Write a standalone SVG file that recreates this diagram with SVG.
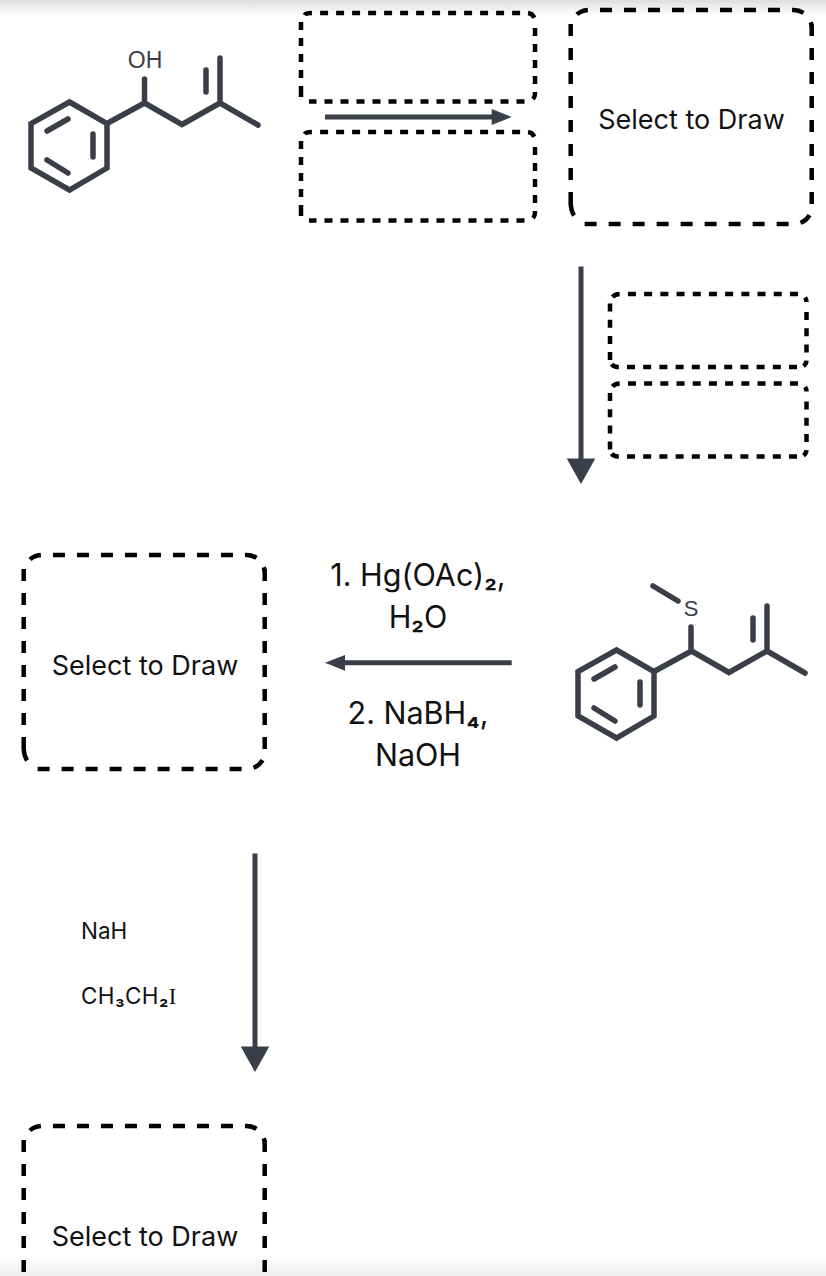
<svg xmlns="http://www.w3.org/2000/svg" width="826" height="1276" viewBox="0 0 826 1276">
<style>
.sm{fill:none;stroke:#000;stroke-width:4.500;stroke-dasharray:8 8}
.sn{fill:none;stroke:#000;stroke-width:4.500;stroke-dasharray:8 8.200}
.lg{fill:none;stroke:#000;stroke-width:4.500;stroke-dasharray:12 12}
.b{fill:none;stroke:#3a3e49;stroke-width:5.500;stroke-linecap:round;stroke-linejoin:miter}
.c{stroke:#3a3e49;stroke-width:5;fill:none}
.h{fill:#3a3e49}
.t{font-family:Inter,"Liberation Sans",sans-serif;fill:#111}
.d{font-size:27px;text-anchor:middle}
.r{font-size:30.500px;text-anchor:middle}
.n{font-size:22.500px}
.u{font-size:.92em;font-weight:600}
.i{font-family:"Liberation Serif",serif}
.a{font-family:"Liberation Sans",Arial,sans-serif;fill:#3a3e49;text-anchor:middle}
</style>
<defs>
<linearGradient id="gt" x1="0" y1="0" x2="0" y2="1"><stop offset="0" stop-color="#000" stop-opacity=".13"/><stop offset="1" stop-color="#000" stop-opacity="0"/></linearGradient>
<linearGradient id="gb" x1="0" y1="1" x2="0" y2="0"><stop offset="0" stop-color="#000" stop-opacity=".07"/><stop offset="1" stop-color="#000" stop-opacity="0"/></linearGradient>
<g id="mol">
<path class="b" d="M69.500 102L107 123.500V168L69.500 190L31 168V123.500Z"/>
<path class="b" d="M47 131L68 119M93 134V157M47 160L68 173M107 123.500L144.500 103L182 124.500L220 103L258 125M220 103V58M206 70V92"/>
</g>
<path id="big" class="lg" d="M577 14.500Q581 10.500 589 10H793.500A18 18 0 0 1 811.700 28M811.700 24V204M809.500 215A18 18 0 0 1 794 224H583M570.700 24V204M570.700 204Q571 211 574.500 216"/>
<path id="wide" class="sm" d="M304.500 15Q306 13 313 13H527A8 8 0 0 1 535 21M535 28V93.500A8 8 0 0 1 533 99M524.500 101.500H309M301 22V84M301 86V94M301 89V97"/>
<path id="narrow" class="sn" d="M612.500 297Q615 294 620.500 294H798.500A8 8 0 0 1 806.500 302M806.500 312V359.500A7.500 7.500 0 0 1 803.500 366M797 367H618Q613 367 611 363M610 303.500V360"/>
</defs>
<rect width="826" height="1276" fill="#fff"/>
<g id="molecule-alcohol">
<use href="#mol"/>
<path class="b" d="M144.500 103V79"/>
<text class="a" x="145" y="67.500" font-size="23">OH</text>
</g>
<g id="molecule-thioether">
<use href="#mol" transform="translate(547 548)"/>
<path class="b" d="M691 651V627M653 586L678 601"/>
<text class="a" x="691" y="616" font-size="22">S</text>
</g>
<g id="box-reagent-top"><use href="#wide"/></g>
<g id="box-reagent-bottom"><use href="#wide" transform="translate(0 119)"/></g>
<g id="box-product-1"><use href="#big"/><text class="t d" x="691.500" y="128.500">Select to Draw</text></g>
<g id="box-reagent-right-top"><use href="#narrow"/></g>
<g id="box-reagent-right-bottom"><use href="#narrow" transform="translate(0 89.500)"/></g>
<g id="box-product-2"><use href="#big" transform="translate(-547 545)"/><text class="t d" x="145" y="675">Select to Draw</text></g>
<g id="box-product-3"><use href="#big" transform="translate(-547 1116)"/><text class="t d" x="145" y="1245.500">Select to Draw</text></g>
<g id="reagents-hg">
<text class="t r" x="418" y="586">1. Hg(OAc)<tspan class="u">₂</tspan>,</text>
<text class="t r" x="418" y="628">H<tspan class="u">₂</tspan>O</text>
<text class="t r" x="418" y="724">2. NaBH<tspan class="u">₄</tspan>,</text>
<text class="t r" x="418" y="766">NaOH</text>
</g>
<g id="reagents-nah">
<text class="t n" x="81" y="939">NaH</text>
<text class="t n" x="81" y="1004" letter-spacing=".4">CH<tspan class="u">₃</tspan>CH<tspan class="u">₂</tspan><tspan class="i">I</tspan></text>
</g>
<g id="connectors">
<path class="c" d="M325 117H495"/><path class="h" d="M511.700 117L491.700 109V125Z"/>
<path class="c" d="M581 266.500V462"/><path class="h" d="M581 484L566.700 458.500H595.300Z"/>
<path class="c" d="M511.700 662.700H342"/><path class="h" d="M325 662.700L345 655V670.700Z"/>
<path class="c" d="M255 853.500V1049"/><path class="h" d="M255 1072L240.700 1046.500H269.300Z"/>
</g>
<rect id="shade-top" width="826" height="16" fill="url(#gt)"/>
<rect id="shade-bottom" y="1254" width="826" height="22" fill="url(#gb)"/>
</svg>
